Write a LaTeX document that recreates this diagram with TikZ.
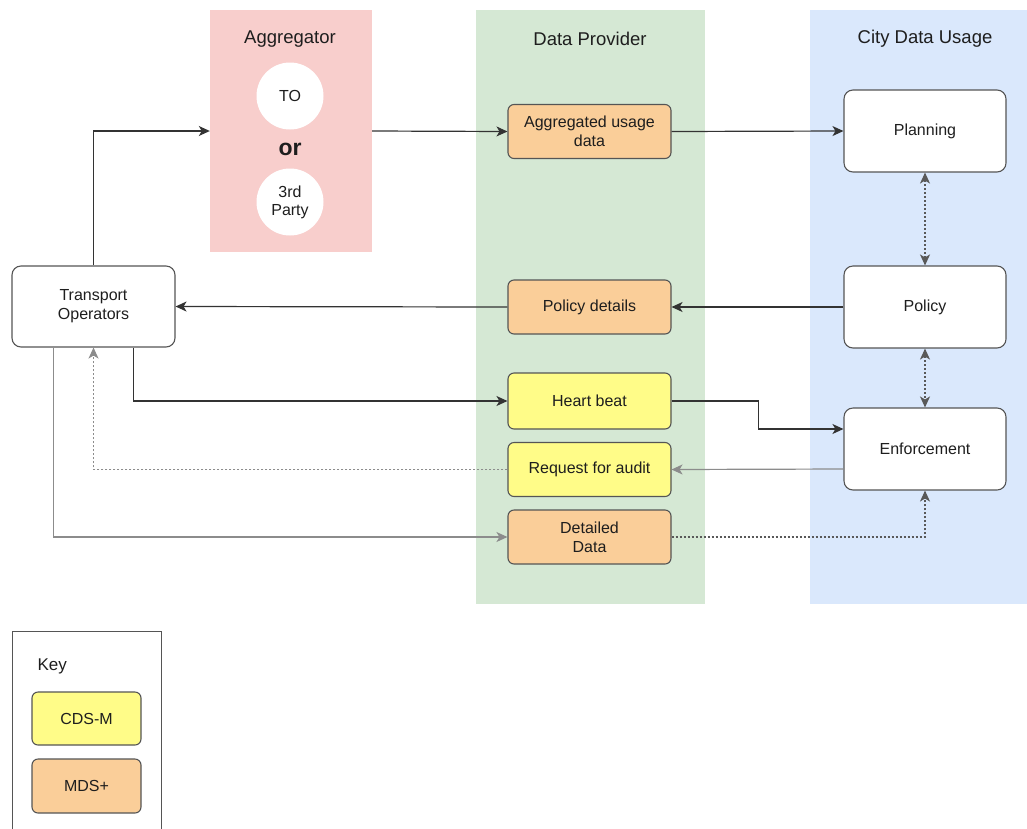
\documentclass[tikz,border=0pt]{standalone}
\usepackage{fontspec}
\setmainfont{Liberation Sans}
\usetikzlibrary{arrows.meta}

\definecolor{aggpink}{RGB}{248,206,204}
\definecolor{provgreen}{RGB}{213,232,212}
\definecolor{cityblue}{RGB}{218,232,252}
\definecolor{mdsorange}{RGB}{250,206,153}
\definecolor{cdsyellow}{RGB}{255,252,136}
\definecolor{boxline}{RGB}{85,85,85}
\definecolor{txt}{RGB}{30,30,30}

\begin{document}
\begin{tikzpicture}[x=1pt,y=-1pt,>={Stealth[length=11pt,width=10pt,inset=3pt]},
	every node/.style={text=txt,font=\fontsize{16}{19}\selectfont,align=center},
	panel/.style={rectangle,inner sep=0pt,minimum height=594},
	paneltitle/.style={font=\fontsize{18.5}{22}\selectfont},
	databox/.style={rectangle,rounded corners=6pt,draw=boxline,line width=1.1pt,minimum width=163,minimum height=54,inner sep=2pt},
	usebox/.style={rectangle,rounded corners=9pt,draw=boxline,line width=1.1pt,fill=white,minimum width=162,minimum height=82},
	conn/.style={draw=black!80,line width=1.2pt},
	lightconn/.style={draw=black!45,line width=1.2pt},
	dotconn/.style={draw=black!65,line width=1.2pt,dash pattern=on 2pt off 2pt}]
	\useasboundingbox (0,0) rectangle (1027,828);

	% columns
	\node[panel,fill=aggpink,minimum width=162,minimum height=242] (agg) at (291,131) {};
	\node[panel,fill=provgreen,minimum width=229] (prov) at (590.5,307) {};
	\node[panel,fill=cityblue,minimum width=220] (city) at (920,307) {};
	\node[paneltitle] (aggtitle) at (290,39) {Aggregator};
	\node[paneltitle] (provtitle) at (590,39) {Data Provider};
	\node[paneltitle] (citytitle) at (925,39) {City Data Usage};

	\begin{scope}[every node/.style={circle,fill=white,minimum size=67,inner sep=0pt,text=txt,align=center,font=\fontsize{16}{18}\selectfont}]
	\node (TO) at (290,96) {TO};
	\node (third) at (290,202) {3rd\\Party};
	\end{scope}
	\node[font=\bfseries\fontsize{23}{25}\selectfont] (or) at (290,149) {or};

	% nodes
	\node[usebox,minimum width=163,minimum height=81] (trans) at (93.5,306.5) {Transport\\Operators};
	\node[databox,fill=mdsorange] (aggdata) at (589.5,131.5) {Aggregated usage\\data};
	\node[databox,fill=mdsorange] (poldet) at (589.5,307) {Policy details};
	\node[databox,fill=cdsyellow,minimum height=56] (heart) at (589.5,401) {Heart beat};
	\node[databox,fill=cdsyellow] (audit) at (589.5,469.5) {Request for audit};
	\node[databox,fill=mdsorange] (detail) at (589.5,537) {Detailed\\Data};
	\node[usebox] (plan) at (925,131) {Planning};
	\node[usebox] (policy) at (925,307) {Policy};
	\node[usebox] (enf) at (925,449) {Enforcement};

	% connectors
	\draw[conn,->] (trans.north) |- (agg.west);
	\draw[conn,->] (agg.east) -- (aggdata.west);
	\draw[conn,->] (aggdata.east) -- (plan.west);
	\draw[conn,->] (policy.west) -- (poldet.east);
	\draw[conn,->] (poldet.west) -- (trans.east);
	\draw[dotconn,<->] (plan.south) -- (policy.north);
	\draw[dotconn,<->] (policy.south) -- (enf.north);
	\draw[conn,->] ([xshift=40pt]trans.south) |- (heart.west);
	\draw[conn,->] (heart.east) -- ++(87,0) |- ([yshift=20pt]enf.west);
	\draw[lightconn,->] ([yshift=-20pt]enf.west) -- (audit.east);
	\draw[dotconn,draw=black!45,->] (audit.west) -| (trans.south);
	\draw[lightconn,->] ([xshift=-40pt]trans.south) |- (detail.west);
	\draw[dotconn,->] (detail.east) -| (enf.south);

	% key
	\node[rectangle,draw=boxline,line width=1.1pt,minimum width=149,minimum height=230,anchor=north west] (key) at (12,631) {};
	\node[anchor=west,font=\fontsize{17}{20}\selectfont] (keytitle) at (34,666) {Key};
	\node[databox,fill=cdsyellow,minimum width=109,minimum height=53] (cds) at (86.5,718.5) {CDS-M};
	\node[databox,fill=mdsorange,minimum width=109,minimum height=54] (mds) at (86.5,786) {MDS+};
\end{tikzpicture}
\end{document}
